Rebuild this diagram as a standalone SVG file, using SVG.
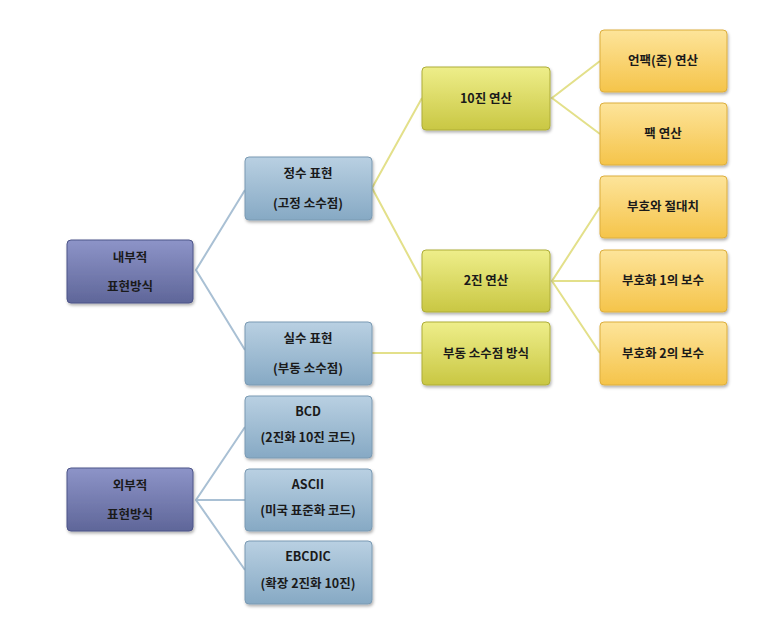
<svg xmlns="http://www.w3.org/2000/svg" width="762" height="629" viewBox="0 0 762 629">
<defs>
<linearGradient id="gp" x1="0" y1="0" x2="0" y2="1"><stop offset="0" stop-color="#8d94c8"/><stop offset="1" stop-color="#5f6699"/></linearGradient>
<linearGradient id="gb" x1="0" y1="0" x2="0" y2="1"><stop offset="0" stop-color="#b9d0e2"/><stop offset="1" stop-color="#86a9c4"/></linearGradient>
<linearGradient id="gy" x1="0" y1="0" x2="0" y2="1"><stop offset="0" stop-color="#eeee8a"/><stop offset="1" stop-color="#c9c743"/></linearGradient>
<linearGradient id="go" x1="0" y1="0" x2="0" y2="1"><stop offset="0" stop-color="#fde49a"/><stop offset="1" stop-color="#f5c44a"/></linearGradient>
<filter id="sh" x="-10%" y="-10%" width="130%" height="140%"><feDropShadow dx="1" dy="2" stdDeviation="1.5" flood-color="#000" flood-opacity="0.3"/></filter>
</defs>
<style>
rect{filter:url(#sh);rx:4px}
.p{fill:url(#gp);stroke:#4d5488;stroke-width:1}
.b{fill:url(#gb);stroke:#7a9ab3;stroke-width:1}
.y{fill:url(#gy);stroke:#aead38;stroke-width:1}
.o{fill:url(#go);stroke:#dcae3e;stroke-width:1}
text{font-family:"Noto Sans CJK KR","Noto Sans",sans-serif;font-size:12.5px;font-weight:bold;fill:#1a1a1a;text-anchor:middle}
.lb{stroke:#a9c0d4;stroke-width:2;fill:none}
.ly{stroke:#e3e08a;stroke-width:2;fill:none}
</style>
<rect width="762" height="629" fill="#fff" style="filter:none"/>
<g id="connectors">
<polyline class="lb" points="245,190 196,270 245,350"/>
<polyline class="lb" points="245,427 196,500 245,570"/>
<line class="lb" x1="196" y1="500" x2="245" y2="500"/>
<polyline class="ly" points="422,98 372,188 422,281"/>
<line class="ly" x1="372" y1="353" x2="422" y2="353"/>
<polyline class="ly" points="600,61 552,98 600,134"/>
<polyline class="ly" points="600,207 552,281 600,353"/>
<line class="ly" x1="552" y1="281" x2="600" y2="281"/>
</g>
<g id="n1"><rect class="p" x="67" y="240" width="126" height="63"/><text x="130" y="262">내부적</text><text x="130" y="291">표현방식</text></g>
<g id="n2"><rect class="p" x="67" y="468" width="126" height="63"/><text x="130" y="490">외부적</text><text x="130" y="519">표현방식</text></g>
<g id="n3"><rect class="b" x="245" y="157" width="127" height="63"/><text x="308" y="178">정수 표현</text><text x="308" y="208">(고정 소수점)</text></g>
<g id="n4"><rect class="b" x="245" y="322" width="127" height="63"/><text x="308" y="343">실수 표현</text><text x="308" y="373">(부동 소수점)</text></g>
<g id="n5"><rect class="b" x="245" y="396" width="127" height="62"/><text x="308" y="416">BCD</text><text x="308" y="442">(2진화 10진 코드)</text></g>
<g id="n6"><rect class="b" x="245" y="469" width="127" height="62"/><text x="308" y="489">ASCII</text><text x="308" y="515">(미국 표준화 코드)</text></g>
<g id="n7"><rect class="b" x="245" y="541" width="127" height="63"/><text x="308" y="561">EBCDIC</text><text x="308" y="588">(확장 2진화 10진)</text></g>
<g id="n8"><rect class="y" x="422" y="67" width="128" height="63"/><text x="486" y="103">10진 연산</text></g>
<g id="n9"><rect class="y" x="422" y="250" width="128" height="62"/><text x="486" y="285">2진 연산</text></g>
<g id="n10"><rect class="y" x="422" y="322" width="128" height="63"/><text x="486" y="358">부동 소수점 방식</text></g>
<g id="n11"><rect class="o" x="600" y="30" width="127" height="62"/><text x="663" y="65">언팩(존) 연산</text></g>
<g id="n12"><rect class="o" x="600" y="103" width="127" height="62"/><text x="663" y="138">팩 연산</text></g>
<g id="n13"><rect class="o" x="600" y="176" width="127" height="62"/><text x="663" y="211">부호와 절대치</text></g>
<g id="n14"><rect class="o" x="600" y="250" width="127" height="62"/><text x="663" y="285">부호화 1의 보수</text></g>
<g id="n15"><rect class="o" x="600" y="322" width="127" height="63"/><text x="663" y="358">부호화 2의 보수</text></g>
</svg>
